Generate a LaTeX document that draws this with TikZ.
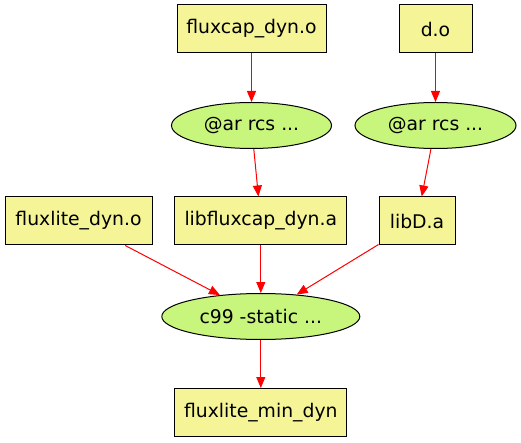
\documentclass[tikz,border=0pt]{standalone}
\usepackage{fontspec}
\setmainfont{DejaVu Sans}
\usetikzlibrary{shapes.geometric, arrows.meta, positioning}
\definecolor{filebox}{HTML}{F5F597}
\definecolor{cmdfill}{HTML}{C8F57C}
\definecolor{depred}{HTML}{FF0000}

\begin{document}
\begin{tikzpicture}[
    x=1pt, y=-1pt,
    font=\fontsize{18.8}{22}\selectfont,
    line width=1pt,
    filenode/.style={rectangle, draw, fill=filebox, minimum height=48pt, inner sep=0pt},
    cmdnode/.style={ellipse, draw, fill=cmdfill, minimum height=46pt, inner sep=0pt},
    dep/.style={->, draw=depred, >={Triangle[length=11pt, width=9pt, fill=depred]}},
]
    \useasboundingbox (0,0) rectangle (521,443);

    % object files and archives
    \node[filenode, minimum width=149pt] (fluxcapo) at (251.5,29) {fluxcap\_dyn.o};
    \node[filenode, minimum width=73pt] (do) at (435.5,29) {d.o};
    \node[cmdnode, minimum width=160pt] (arleft) at (251.5,125.5) {@ar rcs ...};
    \node[cmdnode, minimum width=161pt] (arright) at (435.5,125.5) {@ar rcs ...};
    \node[filenode, minimum width=147pt] (fluxliteo) at (78.5,221) {fluxlite\_dyn.o};
    \node[filenode, minimum width=172pt] (libfluxcap) at (260.8,221) {libfluxcap\_dyn.a};
    \node[filenode, minimum width=76pt] (libd) at (417,221) {libD.a};

    % link step
    \node[cmdnode, minimum width=198pt] (link) at (260.8,316.5) {c99 -static ...};
    \node[filenode, minimum width=172pt] (target) at (260.8,412.5) {fluxlite\_min\_dyn};

    \draw[dep] (fluxcapo) -- (arleft);
    \draw[dep] (do) -- (arright);
    \draw[dep] (arleft) -- (libfluxcap);
    \draw[dep] (arright) -- (libd);
    \draw[dep] (fluxliteo) -- (link);
    \draw[dep] (libfluxcap) -- (link);
    \draw[dep] (libd) -- (link);
    \draw[dep] (link) -- (target);
\end{tikzpicture}
\end{document}
